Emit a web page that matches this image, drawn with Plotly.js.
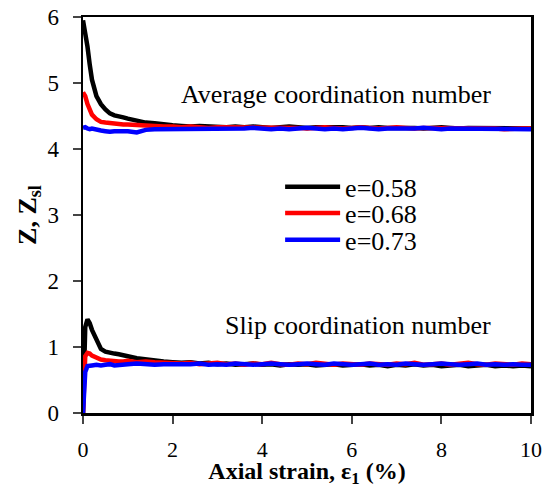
<!DOCTYPE html>
<html>
<head>
<meta charset="utf-8">
<script src="https://cdn.plot.ly/plotly-3.0.1.min.js"></script>
<style>html,body{margin:0;padding:0;background:#fff;}#chart{width:548px;height:488px;}</style>
</head>
<body>
<div id="chart"></div>
<script>
// Axial strain (%) sample positions
const strainHead = [0, 0.05, 0.1, 0.15, 0.2, 0.3, 0.4, 0.5, 0.6, 0.7, 0.8, 0.9, 1.0, 1.2, 1.4, 1.6, 1.8];
const strainTail = [2.0, 2.2, 2.4, 2.6, 2.8, 3.0, 3.2, 3.4, 3.6, 3.8,
  4.0, 4.2, 4.4, 4.6, 4.8, 5.0, 5.2, 5.4, 5.6, 5.8,
  6.0, 6.2, 6.4, 6.6, 6.8, 7.0, 7.2, 7.4, 7.6, 7.8,
  8.0, 8.2, 8.4, 8.6, 8.8, 9.0, 9.2, 9.4, 9.6, 9.8, 10.0];
const strain = strainHead.concat(strainTail);

const seriesNames = ["e=0.58", "e=0.68", "e=0.73"];
const seriesColors = ["#000000", "#ff0000", "#0000ff"];

// Average coordination number Z
const zE058 = [5.95, 5.78, 5.55, 5.28, 5.05, 4.80, 4.68, 4.60, 4.54, 4.51, 4.50, 4.48, 4.46, 4.43, 4.40, 4.39, 4.37,
  4.36, 4.35, 4.34, 4.35, 4.34, 4.34, 4.33, 4.34, 4.33, 4.34,
  4.33, 4.32, 4.33, 4.34, 4.33, 4.32, 4.33, 4.33, 4.34, 4.33,
  4.32, 4.33, 4.32, 4.33, 4.32, 4.32, 4.33, 4.32, 4.31, 4.32,
  4.33, 4.32, 4.31, 4.32, 4.32, 4.31, 4.32, 4.31, 4.32, 4.31, 4.31];
const zE068 = [4.86, 4.80, 4.68, 4.58, 4.52, 4.45, 4.41, 4.40, 4.39, 4.38, 4.38, 4.37, 4.37, 4.36, 4.35, 4.35, 4.34,
  4.34, 4.33, 4.34, 4.33, 4.32, 4.33, 4.33, 4.32, 4.33, 4.32,
  4.33, 4.33, 4.32, 4.33, 4.32, 4.31, 4.32, 4.33, 4.32, 4.31,
  4.32, 4.33, 4.32, 4.31, 4.32, 4.33, 4.32, 4.31, 4.32, 4.32,
  4.31, 4.32, 4.31, 4.32, 4.31, 4.32, 4.31, 4.30, 4.31, 4.31, 4.31];
const zE073 = [4.32, 4.33, 4.31, 4.30, 4.31, 4.29, 4.28, 4.27, 4.26, 4.27, 4.27, 4.28, 4.27, 4.25, 4.29, 4.30, 4.30,
  4.30, 4.31, 4.30, 4.31, 4.30, 4.31, 4.31, 4.30, 4.31, 4.32,
  4.31, 4.30, 4.31, 4.30, 4.31, 4.32, 4.31, 4.30, 4.31, 4.30,
  4.31, 4.32, 4.31, 4.30, 4.31, 4.31, 4.30, 4.31, 4.32, 4.31,
  4.30, 4.31, 4.31, 4.30, 4.31, 4.30, 4.31, 4.31, 4.30, 4.31, 4.30];

// Slip coordination number Z_sl
const zslE058 = [0, 1.30, 1.42, 1.36, 1.26, 1.10, 0.97, 0.93, 0.91, 0.90, 0.89, 0.88, 0.86, 0.83, 0.81, 0.80, 0.78,
  0.77, 0.76, 0.77, 0.75, 0.76, 0.74, 0.75, 0.73, 0.74, 0.75,
  0.73, 0.74, 0.72, 0.74, 0.73, 0.74, 0.72, 0.73, 0.74, 0.72,
  0.73, 0.74, 0.72, 0.73, 0.71, 0.73, 0.72, 0.74, 0.72, 0.73,
  0.71, 0.72, 0.73, 0.71, 0.72, 0.73, 0.71, 0.72, 0.71, 0.72, 0.71];
const zslE068 = [0, 0.86, 0.91, 0.90, 0.87, 0.84, 0.81, 0.80, 0.79, 0.79, 0.78, 0.78, 0.79, 0.77, 0.78, 0.77, 0.76,
  0.76, 0.75, 0.76, 0.74, 0.75, 0.76, 0.74, 0.75, 0.73, 0.75,
  0.74, 0.76, 0.74, 0.73, 0.75, 0.74, 0.76, 0.74, 0.73, 0.75,
  0.74, 0.73, 0.75, 0.74, 0.73, 0.75, 0.74, 0.76, 0.73, 0.74,
  0.75, 0.73, 0.74, 0.76, 0.74, 0.73, 0.75, 0.74, 0.73, 0.75, 0.74];
const zslE073 = [0, 0.62, 0.71, 0.72, 0.72, 0.73, 0.72, 0.73, 0.74, 0.72, 0.73, 0.74, 0.74, 0.75, 0.74, 0.73, 0.74,
  0.74, 0.73, 0.74, 0.75, 0.73, 0.74, 0.73, 0.75, 0.74, 0.73,
  0.74, 0.75, 0.74, 0.73, 0.74, 0.75, 0.74, 0.73, 0.75, 0.74,
  0.73, 0.74, 0.75, 0.73, 0.74, 0.73, 0.75, 0.74, 0.73, 0.74,
  0.75, 0.74, 0.73, 0.74, 0.75, 0.73, 0.74, 0.73, 0.74, 0.73, 0.73];

const xTicks = [0, 2, 4, 6, 8, 10];
const yTicks = [0, 1, 2, 3, 4, 5, 6];
const annotationTexts = ["Average coordination number", "Slip coordination number"];

const zSeries = [zE058, zE068, zE073];
const zslSeries = [zslE058, zslE068, zslE073];
const FONT = "Liberation Serif, Times New Roman, serif";
const legendIds = ["legend", "legend2", "legend3"];

const traces = [];
for (let i = 0; i < 3; i++) {
  traces.push({
    x: strain, y: zSeries[i], type: "scatter", mode: "lines",
    name: seriesNames[i], legendgroup: seriesNames[i], legend: legendIds[i],
    line: {color: seriesColors[i], width: 4.5}
  });
}
for (let i = 0; i < 3; i++) {
  traces.push({
    x: strain, y: zslSeries[i], type: "scatter", mode: "lines",
    name: seriesNames[i], legendgroup: seriesNames[i], showlegend: false,
    line: {color: seriesColors[i], width: 4.5}
  });
}

function legendAt(yPaper) {
  return {
    x: 0.44, y: yPaper, xanchor: "left", yanchor: "middle",
    bgcolor: "rgba(0,0,0,0)", borderwidth: 0,
    font: {family: FONT, size: 26, color: "#000"},
    itemwidth: 55
  };
}

const layout = {
  width: 548, height: 488,
  margin: {l: 83, r: 17, t: 17, b: 75},
  paper_bgcolor: "#fff", plot_bgcolor: "#fff",
  font: {family: FONT, size: 22, color: "#000"},
  showlegend: true,
  legend: legendAt(0.571),
  legend2: legendAt(0.505),
  legend3: legendAt(0.437),
  xaxis: {
    range: [0, 10], tickvals: xTicks, ticks: "outside", ticklen: 8, tickwidth: 2,
    showline: true, linewidth: 2.5, linecolor: "#000", mirror: true,
    showgrid: false, zeroline: false, ticklabelstandoff: 7,
    tickfont: {family: FONT, size: 22},
    title: {text: "<b>Axial strain, ε<sub>1</sub> (%)</b>", font: {family: FONT, size: 24}, standoff: 16}
  },
  yaxis: {
    range: [0, 6], tickvals: yTicks, ticks: "outside", ticklen: 8, tickwidth: 2,
    showline: true, linewidth: 2.5, linecolor: "#000", mirror: true,
    showgrid: false, zeroline: false, ticklabelstandoff: 9,
    tickfont: {family: FONT, size: 23},
    title: {text: "<b>Z, Z<sub>sl</sub></b>", font: {family: FONT, size: 26}, standoff: 4}
  },
  annotations: [
    {x: 9.15, y: 4.82, xref: "x", yref: "y", xanchor: "right", yanchor: "middle",
     text: annotationTexts[0], showarrow: false, font: {family: FONT, size: 26}},
    {x: 9.15, y: 1.33, xref: "x", yref: "y", xanchor: "right", yanchor: "middle",
     text: annotationTexts[1], showarrow: false, font: {family: FONT, size: 26}}
  ]
};

Plotly.newPlot("chart", traces, layout, {staticPlot: true, displayModeBar: false});
</script>
</body>
</html>
